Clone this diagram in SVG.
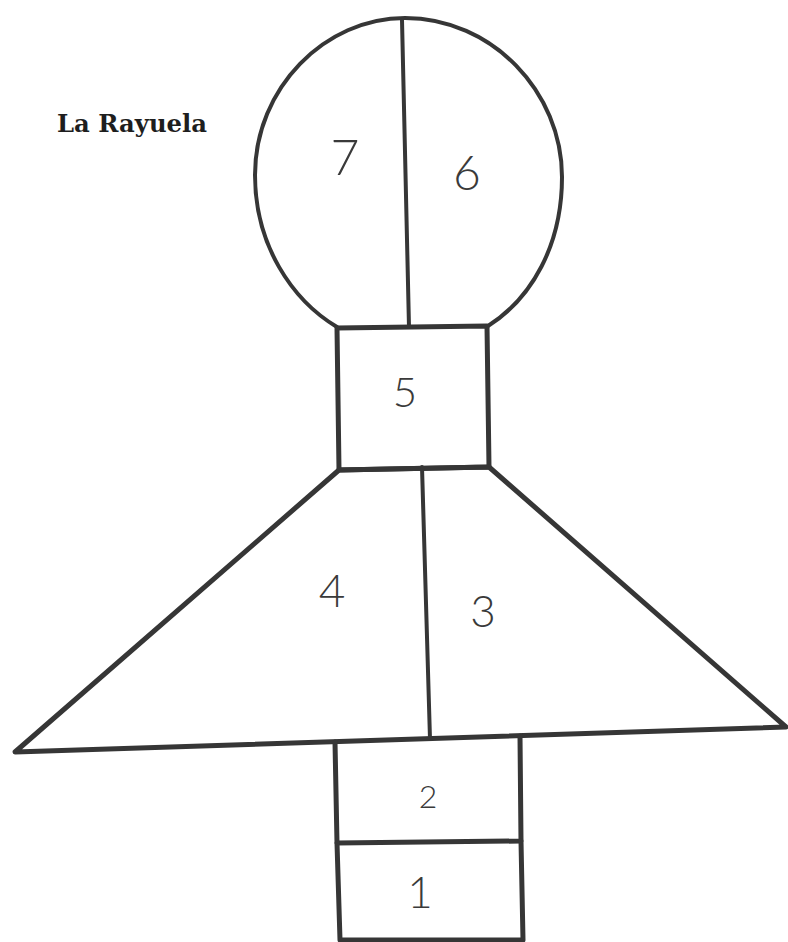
<svg xmlns="http://www.w3.org/2000/svg" width="788" height="942" viewBox="0 0 788 942">
<style>
.ln{fill:none;stroke:#363636;stroke-linecap:round;stroke-linejoin:round}
.thick{stroke-width:5}
.mid{stroke-width:4}
.num{font-family:Lato,"Liberation Sans",sans-serif;font-weight:300;fill:#3a3a3a;text-anchor:middle}
.title{font-family:"DejaVu Serif","Liberation Serif",serif;font-weight:bold;fill:#1e1e1e}
</style>
<rect width="788" height="942" fill="#ffffff"/>
<text class="title" x="57" y="132" font-size="25" textLength="150" lengthAdjust="spacingAndGlyphs">La Rayuela</text>
<g id="head">
<path class="ln mid" d="M 337,327 C 292,300 255,245 255,175 C 255,88 325,18 405,18 C 492,18 562,92 562,177 C 562,245 532,298 488,326"/>
<line class="ln mid" x1="402" y1="20" x2="409" y2="327"/>
<text class="num" x="345" y="175" font-size="50">7</text>
<text class="num" x="467" y="190" font-size="48">6</text>
</g>
<g id="box5">
<polygon class="ln thick" points="337,328 487,326 489,467 339,470"/>
<text class="num" x="405" y="407" font-size="42">5</text>
</g>
<g id="trapezoid">
<polygon class="ln thick" points="339,470 489,467 786,727 15,752"/>
<line class="ln mid" x1="422" y1="467" x2="430" y2="739"/>
<text class="num" x="332" y="607" font-size="46">4</text>
<text class="num" x="483" y="627" font-size="44">3</text>
</g>
<g id="box2">
<polyline class="ln thick" points="335,742 337,843 521,841 520,736"/>
<text class="num" x="428" y="808" font-size="32">2</text>
</g>
<g id="box1">
<polyline class="ln thick" points="337,843 340,940 523,940 521,841"/>
<text class="num" x="420" y="908" font-size="44">1</text>
</g>
</svg>
